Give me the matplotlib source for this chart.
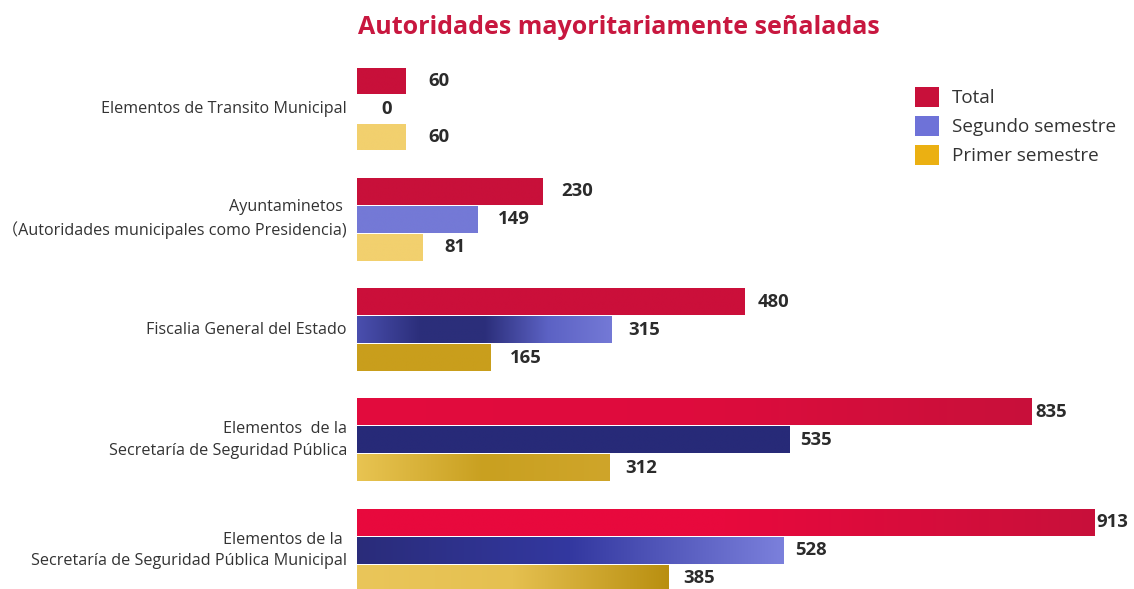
import matplotlib.pyplot as plt
import numpy as np
from matplotlib.colors import LinearSegmentedColormap
from matplotlib.patches import Patch

# ------------------------------------------------------------
# Data
# ------------------------------------------------------------
categories = [
    "Elementos de Transito Municipal",
    "Ayuntaminetos \n\uff08Autoridades municipales como Presidencia)",
    "Fiscalia General del Estado",
    "Elementos  de la\nSecretaría de Seguridad Pública",
    "Elementos de la \nSecretaría de Seguridad Pública Municipal",
]
series_names = ["Total", "Segundo semestre", "Primer semestre"]
total = [60, 230, 480, 835, 913]
segundo = [0, 149, 315, 535, 528]
primer = [60, 81, 165, 312, 385]

# ------------------------------------------------------------
# Styles
# ------------------------------------------------------------
legend_colors = ["#C8103A", "#6E72D8", "#EBB012"]

# colour stops (left -> right) per series and category, mimics the textured bars
bar_stops = [
    [["#C8103A"], ["#C8103A"], ["#CB0F3A"], ["#E30B3E", "#DE0C3D", "#C8103A"], ["#E8093D", "#E8093D", "#C8103A"]],
    [["#7479D6"], ["#7479D6"], ["#4A4FAE", "#2B2E7A", "#2B2E7A", "#5C62C4", "#7479D6"], ["#272A78"], ["#2A2C7A", "#3338A0", "#7B80DC"]],
    [["#F2D06E"], ["#F2D06E"], ["#C99E1C"], ["#E8C452", "#C9A020", "#CFA52A"], ["#EAC65A", "#E5C050", "#B98F10"]],
]

TITLE_COLOR = "#C8173F"
TEXT_COLOR = "#333333"
VALUE_COLOR = "#2B2B2B"
FONT = ["Open Sans", "Noto Sans CJK JP", "DejaVu Sans"]

W, H = 1134, 589
X0 = 357            # pixel where value 0 sits
PX_PER_UNIT = 0.808
GROUP_TOP = 109     # centre of first group (pixels from top)
GROUP_PITCH = 110.3
BAR_STEP = 28.0
BAR_H = 27.0


def main():
    fig = plt.figure(figsize=(W / 100, H / 100), dpi=100)
    ax = fig.add_axes([X0 / W, 0, (W - X0) / W, 1])
    ax.set_xlim(0, (W - X0) / PX_PER_UNIT)
    ax.set_ylim(H, 0)
    ax.axis("off")
    ax.set_autoscale_on(False)

    all_series = [total, segundo, primer]
    centers = GROUP_TOP + np.arange(len(categories)) * GROUP_PITCH

    for j, values in enumerate(all_series):
        ys = centers + (j - 1) * BAR_STEP
        bars = ax.barh(ys, values, height=BAR_H, color="none", edgecolor="none")
        for i, (bar, v) in enumerate(zip(bars, values)):
            if v > 0:
                stops = bar_stops[j][i]
                if len(stops) == 1:
                    stops = stops * 2
                cmap = LinearSegmentedColormap.from_list("b", stops)
                grad = np.linspace(0, 1, 256).reshape(1, -1)
                y0 = ys[i] - BAR_H / 2
                im = ax.imshow(grad, cmap=cmap, aspect="auto",
                               extent=[0, v, y0 + BAR_H, y0], zorder=2,
                               interpolation="bilinear")
                im.set_clip_path(bar)
                bar.set_zorder(3)
            # value label, offset shrinks a little as bars get longer
            off_px = 24 - 0.024 * v
            ax.annotate(str(v), xy=(v, ys[i]), xytext=(off_px * 0.72, 0),
                        textcoords="offset points", ha="left", va="center",
                        fontsize=13.3, fontweight="bold", color=VALUE_COLOR,
                        family=FONT)

    # category labels
    for c, label in zip(centers, categories):
        ax.annotate(label, xy=(0, c), xytext=(-7.2, 0), textcoords="offset points",
                    ha="right", va="center", multialignment="right",
                    fontsize=11.6, color=TEXT_COLOR, family=FONT, linespacing=1.45)

    fig.text(619 / W, 1 - 28 / H, "Autoridades mayoritariamente señaladas",
             ha="center", va="center", fontsize=18, fontweight="bold",
             color=TITLE_COLOR, family=FONT)

    handles = [Patch(facecolor=c, label=n) for c, n in zip(legend_colors, series_names)]
    fig.legend(handles=handles, loc="upper left",
               bbox_to_anchor=(898 / W, 1 - 70 / H), frameon=False,
               handlelength=1.25, handleheight=1.25, handletextpad=0.7,
               labelspacing=0.45, prop={"family": FONT, "size": 13.6},
               labelcolor=TEXT_COLOR)

    fig.savefig("out.png", dpi=100, facecolor="white")


if __name__ == "__main__":
    main()
